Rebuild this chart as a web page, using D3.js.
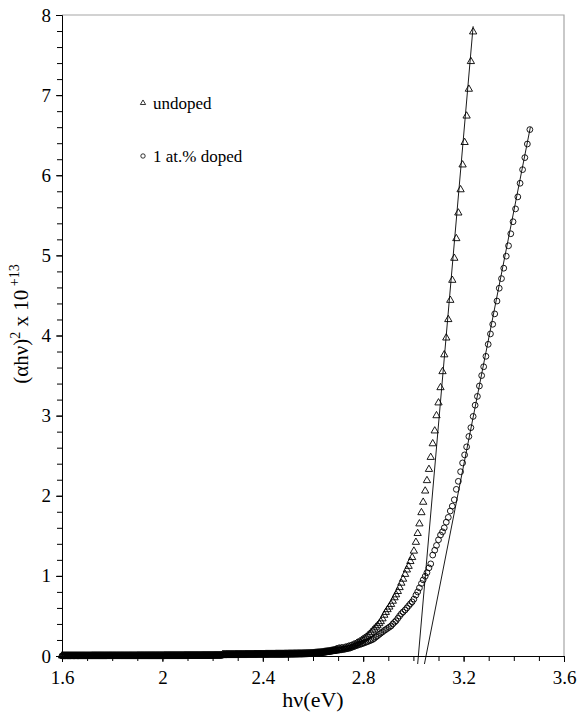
<!DOCTYPE html>
<html>
<head>
<meta charset="utf-8">
<script src="https://cdn.jsdelivr.net/npm/d3@7"></script>
<style>
  body { margin: 0; background: #fff; }
  svg { display: block; }
  text { font-family: "Liberation Serif", "Times New Roman", serif; }
</style>
</head>
<body>
<div id="chart"></div>
<script>
// photon energy (eV), shared by both films
const energy = [
  1.600,1.604,1.608,1.612,1.616,1.620,1.624,1.628,1.632,1.636,
  1.640,1.644,1.648,1.652,1.656,1.660,1.664,1.668,1.672,1.676,
  1.680,1.684,1.688,1.692,1.696,1.700,1.704,1.708,1.712,1.716,
  1.720,1.724,1.728,1.732,1.736,1.740,1.744,1.748,1.752,1.756,
  1.760,1.764,1.768,1.772,1.776,1.780,1.784,1.788,1.792,1.796,
  1.800,1.804,1.808,1.812,1.816,1.820,1.824,1.828,1.832,1.836,
  1.840,1.844,1.848,1.852,1.856,1.860,1.864,1.868,1.872,1.876,
  1.880,1.884,1.888,1.892,1.896,1.900,1.904,1.908,1.912,1.916,
  1.920,1.924,1.928,1.932,1.936,1.940,1.944,1.948,1.952,1.956,
  1.960,1.964,1.968,1.972,1.976,1.980,1.984,1.988,1.992,1.996,
  2.000,2.004,2.008,2.012,2.016,2.020,2.024,2.028,2.032,2.036,
  2.040,2.044,2.048,2.052,2.056,2.060,2.064,2.068,2.072,2.076,
  2.080,2.084,2.088,2.092,2.096,2.100,2.104,2.108,2.112,2.116,
  2.120,2.124,2.128,2.132,2.136,2.140,2.144,2.148,2.152,2.156,
  2.160,2.164,2.168,2.172,2.176,2.180,2.184,2.188,2.192,2.196,
  2.200,2.204,2.208,2.212,2.216,2.220,2.224,2.228,2.232,2.236,
  2.240,2.244,2.248,2.252,2.256,2.260,2.264,2.268,2.272,2.276,
  2.280,2.284,2.288,2.292,2.296,2.300,2.304,2.308,2.312,2.316,
  2.320,2.324,2.328,2.332,2.336,2.340,2.344,2.348,2.352,2.356,
  2.360,2.364,2.368,2.372,2.376,2.380,2.384,2.388,2.392,2.396,
  2.400,2.404,2.408,2.412,2.416,2.420,2.424,2.428,2.432,2.436,
  2.440,2.444,2.448,2.452,2.456,2.460,2.464,2.468,2.472,2.476,
  2.480,2.484,2.488,2.492,2.496,2.500,2.504,2.508,2.512,2.516,
  2.520,2.524,2.528,2.532,2.536,2.540,2.544,2.548,2.552,2.556,
  2.560,2.564,2.568,2.572,2.576,2.580,2.584,2.588,2.592,2.596,
  2.600,2.604,2.608,2.612,2.616,2.620,2.624,2.628,2.632,2.636,
  2.640,2.644,2.648,2.652,2.656,2.660,2.664,2.668,2.672,2.676,
  2.680,2.684,2.688,2.692,
  2.696,2.702,2.707,2.713,2.719,2.725,2.731,2.737,2.743,2.749,
  2.756,2.762,2.768,2.774,2.780,2.787,2.793,2.799,2.805,2.812,
  2.818,2.825,2.831,2.838,2.844,2.851,2.857,2.864,2.870,2.877,
  2.884,2.890,2.897,2.904,2.911,2.918,2.925,2.931,2.938,2.945,
  2.952,2.959,2.967,2.974,2.981,2.988,2.995,3.002,3.010,3.017,
  3.024,3.032,3.039,3.047,3.054,3.062,3.069,3.077,3.085,3.092,
  3.100,3.108,3.116,3.123,3.131,3.139,3.147,3.155,3.163,3.171,
  3.179,3.188,3.196,3.204,3.212,3.221,3.229,3.238,3.246,3.255,
  3.263,3.272,3.280,3.289,3.298,3.307,3.316,3.324,3.333,3.342,
  3.351,3.360,3.370,3.379,3.388,3.397,3.407,3.416,3.425,3.435,
  3.444,3.454,3.464
];

// (alpha h nu)^2 in units of 1e13, undoped film (stops at 3.238 eV)
const undoped = [
  0.002,0.002,0.002,0.002,0.002,0.002,0.002,0.002,0.002,0.002,
  0.002,0.002,0.002,0.002,0.002,0.002,0.002,0.002,0.002,0.002,
  0.002,0.002,0.002,0.002,0.002,0.002,0.002,0.002,0.002,0.002,
  0.003,0.003,0.003,0.003,0.003,0.003,0.003,0.003,0.003,0.003,
  0.003,0.003,0.003,0.003,0.003,0.003,0.003,0.003,0.003,0.003,
  0.003,0.003,0.003,0.003,0.003,0.003,0.003,0.003,0.003,0.003,
  0.003,0.003,0.003,0.003,0.003,0.003,0.003,0.003,0.003,0.003,
  0.003,0.003,0.003,0.003,0.003,0.004,0.004,0.004,0.004,0.004,
  0.004,0.004,0.004,0.004,0.004,0.004,0.004,0.004,0.004,0.004,
  0.004,0.004,0.004,0.004,0.004,0.004,0.004,0.004,0.004,0.004,
  0.004,0.004,0.005,0.005,0.005,0.005,0.005,0.005,0.005,0.005,
  0.005,0.005,0.005,0.005,0.005,0.005,0.005,0.005,0.005,0.005,
  0.005,0.005,0.006,0.006,0.006,0.006,0.006,0.006,0.006,0.006,
  0.006,0.006,0.006,0.006,0.006,0.006,0.006,0.006,0.006,0.006,
  0.007,0.007,0.007,0.007,0.007,0.007,0.007,0.007,0.007,0.007,
  0.007,0.007,0.008,0.008,0.008,0.008,0.008,0.008,0.008,0.008,
  0.018,0.018,0.018,0.018,0.019,0.019,0.019,0.019,0.019,0.019,
  0.019,0.019,0.019,0.020,0.020,0.020,0.020,0.020,0.020,0.020,
  0.020,0.020,0.020,0.021,0.021,0.021,0.021,0.021,0.021,0.021,
  0.021,0.021,0.022,0.022,0.022,0.022,0.022,0.022,0.022,0.022,
  0.022,0.022,0.022,0.023,0.023,0.023,0.023,0.023,0.023,0.023,
  0.023,0.023,0.023,0.024,0.024,0.024,0.024,0.024,0.024,0.024,
  0.024,0.024,0.025,0.025,0.025,0.025,0.026,0.026,0.026,0.026,
  0.026,0.027,0.027,0.027,0.027,0.028,0.028,0.028,0.028,0.028,
  0.029,0.029,0.030,0.030,0.031,0.031,0.032,0.032,0.033,0.033,
  0.034,0.035,0.036,0.037,0.038,0.039,0.040,0.041,0.043,0.044,
  0.046,0.048,0.050,0.051,0.053,0.055,0.057,0.059,0.061,0.063,
  0.066,0.069,0.072,0.078,
  0.084,0.088,0.091,0.093,0.095,0.099,0.104,0.110,0.116,0.122,
  0.130,0.138,0.147,0.157,0.168,0.180,0.193,0.206,0.220,0.235,
  0.252,0.272,0.293,0.316,0.337,0.360,0.380,0.405,0.430,0.465,
  0.510,0.545,0.580,0.612,0.645,0.685,0.728,0.765,0.806,0.855,
  0.91,0.96,1.02,1.075,1.12,1.18,1.23,1.31,1.42,1.53,
  1.65,1.79,1.92,2.06,2.19,2.33,2.48,2.65,2.81,3.00,
  3.16,3.35,3.55,3.76,3.97,4.20,4.44,4.69,4.965,5.21,
  5.53,5.82,6.13,6.41,6.74,7.075,7.42,7.79
];

// (alpha h nu)^2 in units of 1e13, 1 at.% doped film
const doped = [
  0.002,0.001,0.002,0.001,0.002,0.002,0.001,0.002,0.001,0.002,
  0.002,0.002,0.001,0.002,0.002,0.002,0.001,0.002,0.002,0.002,
  0.002,0.002,0.002,0.002,0.002,0.002,0.002,0.002,0.002,0.002,
  0.002,0.002,0.002,0.002,0.002,0.002,0.002,0.002,0.002,0.002,
  0.002,0.002,0.002,0.002,0.002,0.003,0.003,0.003,0.003,0.003,
  0.003,0.003,0.003,0.003,0.003,0.003,0.003,0.003,0.003,0.003,
  0.003,0.003,0.003,0.003,0.003,0.003,0.003,0.003,0.003,0.003,
  0.003,0.003,0.003,0.003,0.003,0.003,0.003,0.003,0.003,0.003,
  0.003,0.003,0.003,0.003,0.003,0.003,0.003,0.003,0.003,0.003,
  0.003,0.003,0.003,0.003,0.003,0.003,0.003,0.003,0.003,0.003,
  0.003,0.003,0.003,0.004,0.004,0.004,0.004,0.004,0.004,0.004,
  0.004,0.004,0.004,0.004,0.004,0.004,0.004,0.004,0.004,0.004,
  0.004,0.004,0.004,0.004,0.004,0.004,0.005,0.005,0.005,0.005,
  0.005,0.005,0.005,0.005,0.005,0.005,0.005,0.005,0.005,0.005,
  0.005,0.005,0.005,0.005,0.005,0.005,0.005,0.005,0.005,0.005,
  0.006,0.006,0.006,0.006,0.006,0.006,0.006,0.006,0.006,0.006,
  0.015,0.015,0.015,0.015,0.015,0.016,0.016,0.016,0.016,0.016,
  0.016,0.016,0.016,0.016,0.016,0.017,0.017,0.017,0.017,0.017,
  0.017,0.017,0.017,0.017,0.017,0.018,0.018,0.018,0.018,0.018,
  0.018,0.018,0.018,0.018,0.018,0.019,0.019,0.019,0.019,0.019,
  0.019,0.019,0.019,0.019,0.019,0.019,0.020,0.020,0.020,0.020,
  0.020,0.020,0.020,0.020,0.020,0.020,0.020,0.020,0.020,0.020,
  0.020,0.020,0.021,0.021,0.021,0.021,0.021,0.022,0.022,0.022,
  0.022,0.022,0.023,0.023,0.023,0.023,0.024,0.024,0.024,0.024,
  0.025,0.025,0.026,0.026,0.027,0.027,0.028,0.028,0.029,0.030,
  0.031,0.032,0.033,0.034,0.035,0.036,0.037,0.038,0.040,0.041,
  0.043,0.045,0.047,0.049,0.051,0.053,0.055,0.057,0.059,0.061,
  0.063,0.065,0.067,0.069,
  0.070,0.073,0.075,0.078,0.081,0.084,0.088,0.092,0.096,0.101,
  0.110,0.117,0.124,0.131,0.138,0.145,0.151,0.158,0.165,0.173,
  0.181,0.190,0.197,0.207,0.220,0.238,0.252,0.270,0.285,0.300,
  0.318,0.330,0.345,0.360,0.375,0.400,0.422,0.44,0.47,0.50,
  0.528,0.55,0.574,0.600,0.626,0.652,0.676,0.71,0.76,0.80,
  0.85,0.905,0.95,0.995,1.04,1.10,1.15,1.26,1.32,1.38,
  1.45,1.51,1.55,1.60,1.67,1.73,1.81,1.87,1.95,2.08,
  2.18,2.30,2.41,2.51,2.61,2.74,2.85,2.99,3.13,3.24,
  3.37,3.50,3.61,3.74,3.89,4.02,4.14,4.27,4.43,4.59,
  4.71,4.84,4.99,5.12,5.27,5.42,5.58,5.73,5.90,6.07,
  6.22,6.39,6.57
];

// linear fits used to read the band gap (end points in data units)
const undopedFit = [[3.017, -0.1], [3.238, 7.86]];
const dopedFit = [[3.044, -0.1], [3.466, 6.6]];

const xTicks = [1.6, 2, 2.4, 2.8, 3.2, 3.6];
const yTicks = [0, 1, 2, 3, 4, 5, 6, 7, 8];
const legendLabels = ['undoped', '1 at.% doped'];

const serif = 'Liberation Serif, Times New Roman, serif';
const width = 578;
const height = 715;
const margin = { top: 15, right: 14, bottom: 59, left: 62 };

const svg = d3.select('#chart')
  .append('svg')
  .attr('width', width)
  .attr('height', height)
  .attr('font-family', serif);

const x = d3.scaleLinear()
  .domain([1.6, 3.6])
  .range([margin.left, width - margin.right]);

const y = d3.scaleLinear()
  .domain([0, 8])
  .range([height - margin.bottom, margin.top]);

// grey frame on top and right
svg.append('path')
  .attr('d', `M${x(1.6)},${y(8)}H${x(3.6)}V${y(0)}`)
  .attr('fill', 'none')
  .attr('stroke', '#a6a6a6')
  .attr('stroke-width', 1.2);

// minor ticks
const xMinor = d3.range(16, 37).map(d => d / 10);
const yMinor = d3.range(0, 41).map(d => d / 5);

svg.append('g')
  .attr('class', 'axis')
  .attr('transform', `translate(0,${y(0)})`)
  .call(d3.axisBottom(x).tickValues(xMinor).tickSize(5).tickSizeOuter(0).tickFormat(''));

svg.append('g')
  .attr('class', 'axis')
  .attr('transform', `translate(${x(1.6)},0)`)
  .call(d3.axisLeft(y).tickValues(yMinor).tickSize(5).tickSizeOuter(0).tickFormat(''));

// major ticks with labels
svg.append('g')
  .attr('class', 'axis')
  .attr('transform', `translate(0,${y(0)})`)
  .call(d3.axisBottom(x).tickValues(xTicks).tickSize(6).tickSizeOuter(0).tickPadding(9).tickFormat(d => String(d)));

svg.append('g')
  .attr('class', 'axis')
  .attr('transform', `translate(${x(1.6)},0)`)
  .call(d3.axisLeft(y).tickValues(yTicks).tickSize(6).tickSizeOuter(0).tickPadding(5).tickFormat(d => String(d)));

svg.selectAll('.axis')
  .attr('font-family', serif)
  .attr('font-size', 19);

svg.selectAll('.axis path, .axis line')
  .attr('stroke', '#000')
  .attr('stroke-width', 1);

svg.selectAll('.axis text')
  .attr('fill', '#000');

// fit lines
const line = d3.line()
  .x(d => x(d[0]))
  .y(d => y(d[1]));

[undopedFit, dopedFit].forEach(fit => {
  svg.append('path')
    .datum(fit)
    .attr('fill', 'none')
    .attr('stroke', '#000')
    .attr('stroke-width', 0.9)
    .attr('d', line);
});

// data markers
const tri = d3.symbol().type(d3.symbolTriangle).size(23);

svg.append('g')
  .selectAll('circle')
  .data(doped)
  .enter()
  .append('circle')
  .attr('cx', (d, i) => x(energy[i]))
  .attr('cy', d => y(d))
  .attr('r', 2.9)
  .attr('fill', 'none')
  .attr('stroke', '#000')
  .attr('stroke-width', 0.9);

svg.append('g')
  .selectAll('path')
  .data(undoped)
  .enter()
  .append('path')
  .attr('d', tri)
  .attr('transform', (d, i) => `translate(${x(energy[i])},${y(d)})`)
  .attr('fill', 'none')
  .attr('stroke', '#000')
  .attr('stroke-width', 0.9);

// legend
const legend = svg.append('g');

legend.append('path')
  .attr('d', d3.symbol().type(d3.symbolTriangle).size(12))
  .attr('transform', 'translate(143,103)')
  .attr('fill', 'none')
  .attr('stroke', '#000')
  .attr('stroke-width', 0.8);

legend.append('circle')
  .attr('cx', 143)
  .attr('cy', 156)
  .attr('r', 2.2)
  .attr('fill', 'none')
  .attr('stroke', '#000')
  .attr('stroke-width', 0.8);

legend.selectAll('text')
  .data(legendLabels)
  .enter()
  .append('text')
  .attr('x', 153)
  .attr('y', (d, i) => 109 + i * 53)
  .attr('font-size', 17)
  .text(d => d);

// axis titles
svg.append('text')
  .attr('x', (x(1.6) + x(3.6)) / 2)
  .attr('y', 707)
  .attr('text-anchor', 'middle')
  .attr('font-size', 22)
  .text('hν(eV)');

const yTitle = svg.append('text')
  .attr('transform', 'translate(28,324) rotate(-90)')
  .attr('text-anchor', 'middle')
  .attr('font-size', 21);

yTitle.append('tspan').text('(αhν)');
yTitle.append('tspan').attr('dy', -8).attr('font-size', 14).text('2');
yTitle.append('tspan').attr('dy', 8).text(' x 10');
yTitle.append('tspan').attr('dy', -9).attr('font-size', 14).text(' +13');
</script>
</body>
</html>
